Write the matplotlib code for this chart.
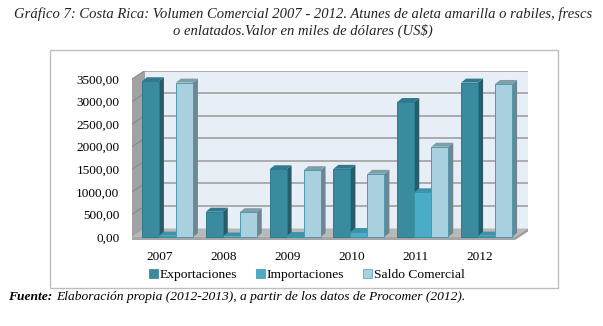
import matplotlib
matplotlib.use("Agg")
import matplotlib.pyplot as plt
from matplotlib.patches import Polygon, Rectangle, Patch

# -----------------------
# data (miles de US$)
# -----------------------
years = ["2007", "2008", "2009", "2010", "2011", "2012"]
exportaciones = [3450, 560, 1500, 1510, 2990, 3420]
importaciones = [30, 10, 20, 110, 990, 30]
saldo = [3420, 550, 1480, 1400, 2000, 3390]
yticks = [0, 500, 1000, 1500, 2000, 2500, 3000, 3500]

# colours: front, top, side, edge
col_exp = ("#3b8ba0", "#2f7a8e", "#275c6a", "#2f7a8e")
col_imp = ("#4aadc7", "#3a93aa", "#2f7386", "#3a93aa")
col_sal = ("#a9d0de", "#7f9ea8", "#6c8792", "#4f98ac")

plt.rcParams["font.family"] = ["Liberation Serif", "DejaVu Serif"]

fig = plt.figure(figsize=(6.03, 3.26), dpi=100)

# chart box
fig.patches.append(Rectangle((50 / 603, 1 - 288 / 326), 508 / 603, 238 / 326,
                             transform=fig.transFigure, fill=False,
                             edgecolor="#bdbdbd", lw=1))

fig.text(0.503, 1 - 14 / 326,
         "Gráfico 7: Costa Rica: Volumen Comercial 2007 - 2012. Atunes de aleta amarilla o rabiles, frescs",
         ha="center", va="center", style="italic", fontsize=10.5, color="#222222")
fig.text(0.503, 1 - 31 / 326,
         "o enlatados.Valor en miles de dólares (US$)",
         ha="center", va="center", style="italic", fontsize=10.5, color="#222222")

# axes: front plane 0 at y=237px, 3500 at 79px, x from 132 to 515px
ax = fig.add_axes([132 / 603, 1 - 240 / 326, 396 / 603, (240 - 70.5) / 326])
px_x = 6.0 / 383.0          # x units per pixel
px_y = 3500.0 / 158.0       # value units per pixel
DX, DY = 13 * px_x, 8.5 * px_y
slab = 3 * px_y
bdx, bdy = 5 * px_x, 4 * px_y

ax.set_xlim(-0.5, 5.5 + DX)
ax.set_ylim(-slab, 3500 + DY)
for s in ax.spines.values():
    s.set_visible(False)
ax.patch.set_alpha(0)

# left wall
ax.add_patch(Polygon([(-0.5, 0), (-0.5, 3500), (-0.5 + DX, 3500 + DY), (-0.5 + DX, DY)],
                     closed=True, facecolor="#a2a2a2", edgecolor="none", zorder=1))
ax.add_patch(Polygon([(-0.5, -slab), (-0.5, 0), (-0.5 + DX, DY), (-0.5 + DX, DY - slab)],
                     closed=True, facecolor="#a2a2a2", edgecolor="none", zorder=1))
# back wall
ax.add_patch(Rectangle((-0.5 + DX, DY), 6, 3500, facecolor="#e7eef5",
                       edgecolor="none", zorder=1))
for v in yticks[1:]:
    ax.plot([-0.5 + DX, 5.5 + DX], [v + DY, v + DY], color="#9a9a9a", lw=1.1, zorder=2)
    ax.plot([-0.5, -0.5 + DX], [v, v + DY], color="#8a8a8a", lw=0.8, zorder=2)
# floor
ax.add_patch(Polygon([(-0.5, 0), (5.5, 0), (5.5 + DX, DY), (-0.5 + DX, DY)],
                     closed=True, facecolor="#b9b9b9", edgecolor="none", zorder=2))
ax.add_patch(Rectangle((-0.5, -slab), 6, slab, facecolor="#a6a6a6",
                       edgecolor="none", zorder=2))
ax.add_patch(Polygon([(5.5, -slab), (5.5 + DX, DY - slab), (5.5 + DX, DY), (5.5, 0)],
                     closed=True, facecolor="#9a9a9a", edgecolor="none", zorder=2))

# bars
w = 17 * px_x
shift = 3.5 * px_x
z = 3
for i in range(len(years)):
    for k, (vals, col) in enumerate([(exportaciones, col_exp),
                                     (importaciones, col_imp),
                                     (saldo, col_sal)]):
        x0 = i - 1.5 * w + shift + k * w
        v = vals[i]
        ax.add_patch(Polygon([(x0 + w, 0), (x0 + w + bdx, bdy), (x0 + w + bdx, v + bdy), (x0 + w, v)],
                             closed=True, facecolor=col[2], edgecolor="none", zorder=z))
        ax.add_patch(Polygon([(x0, v), (x0 + bdx, v + bdy), (x0 + w + bdx, v + bdy), (x0 + w, v)],
                             closed=True, facecolor=col[1], edgecolor="none", zorder=z))
        ax.bar(x0, v, width=w, align="edge", color=col[0], edgecolor=col[3],
               linewidth=0.7, zorder=z + 0.5)
        z += 1

ax.set_yticks(yticks)
ax.set_yticklabels([f"{v:.2f}".replace(".", ",") for v in yticks], fontsize=9.5)
ax.set_xticks([i - 0.06 for i in range(len(years))])
ax.set_xticklabels(years, fontsize=9.5)
ax.tick_params(axis="y", length=0, pad=9)
ax.tick_params(axis="x", length=0, pad=8)

handles = [Patch(facecolor=col_exp[0], edgecolor=col_exp[3], lw=0.5),
           Patch(facecolor=col_imp[0], edgecolor=col_imp[3], lw=0.5),
           Patch(facecolor=col_sal[0], edgecolor=col_sal[3], lw=0.5)]
fig.legend(handles, ["Exportaciones", "Importaciones", "Saldo Comercial"],
           loc="center", bbox_to_anchor=(307 / 603, 1 - 275 / 326), ncol=3,
           frameon=False, fontsize=9.7, handlelength=0.65, handleheight=0.65,
           handletextpad=0.15, columnspacing=1.4)

fig.text(8 / 603, 1 - 297 / 326, "Fuente:", ha="left", va="center",
         style="italic", weight="bold", fontsize=9.7)
fig.text(56 / 603, 1 - 297 / 326,
         "Elaboración propia (2012-2013), a partir de los datos de Procomer (2012).",
         ha="left", va="center", style="italic", fontsize=9.7)

fig.savefig("out.png", dpi=100)
